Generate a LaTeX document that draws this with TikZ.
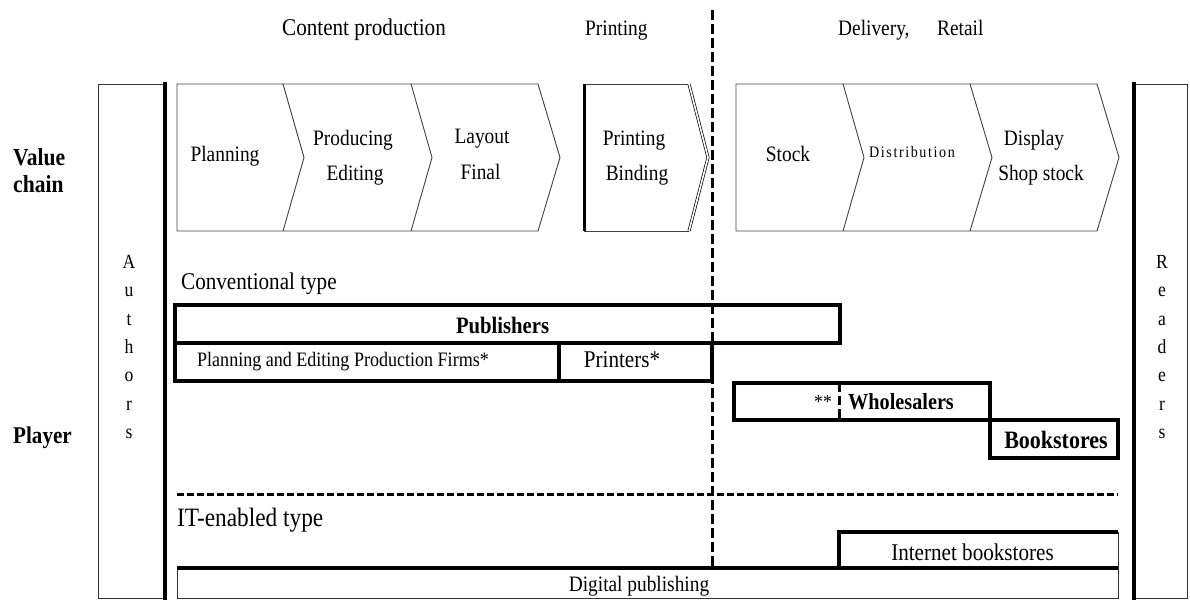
\documentclass[tikz,border=0pt]{standalone}
\usepackage{fontspec}
\setmainfont[FakeStretch=0.88]{Liberation Serif}
\newfontfamily\spacedfont[FakeStretch=0.88,LetterSpace=10]{Liberation Serif}
\newcommand\fsz[1]{\fontsize{#1}{#1}\selectfont}
\tikzset{
  txt/.style={inner sep=0pt, anchor=base},
  chev/.style={draw=black!75, line width=0.9pt, line join=miter},
  thinbox/.style={draw=black!80, line width=0.9pt},
  thickline/.style={line width=3.8pt, line cap=rect},
  vdash/.style={line width=3pt, dash pattern=on 10pt off 4pt},
  hdash/.style={line width=3pt, dash pattern=on 7pt off 3pt},
}
\begin{document}
\begin{tikzpicture}[x=1pt,y=-1pt]
\useasboundingbox (0,0) rectangle (1190,606);

% header
\node[txt, font=\fsz{24}] (hcp) at (364,35) {Content production};
\node[txt, anchor=base west, font=\fsz{22}] (hpr) at (585,35) {Printing};
\node[txt, anchor=base west, font=\fsz{22}] (hdl) at (838,35) {Delivery,};
\node[txt, anchor=base west, font=\fsz{22}] (hrt) at (937,35) {Retail};

% left labels
\node[txt, anchor=base west, font=\fsz{24.5}\bfseries] (vc1) at (13,165.5) {Value};
\node[txt, anchor=base west, font=\fsz{24.5}\bfseries] (vc2) at (13,192.5) {chain};
\node[txt, anchor=base west, font=\fsz{24}\bfseries] (pl) at (13,443) {Player};

% Authors column
\draw[thinbox] (165,84) -- (98,84) -- (98,598) -- (165,598);
\draw[thickline, line cap=butt] (165,82) -- (165,600);
\foreach \c [count=\i from 0] in {A,u,t,h,o,r,s}
  \node[txt, font=\fsz{20}] (au\i) at (129,268.5+28.3*\i) {\c};

% Readers column
\draw[thinbox] (1134,84) -- (1187,84) -- (1187,598) -- (1134,598);
\draw[thickline, line cap=butt] (1134,82) -- (1134,600);
\foreach \c [count=\i from 0] in {R,e,a,d,e,r,s}
  \node[txt, font=\fsz{20}] (rd\i) at (1162,268.5+28.3*\i) {\c};

% value chain chevrons (left group)
\draw[chev] (177,84) -- (283,84) -- (304,157.5) -- (283,231) -- (177,231) -- cycle;
\draw[chev] (283,84) -- (411,84) -- (432,157.5) -- (411,231) -- (283,231);
\draw[chev] (411,84) -- (538,84) -- (560,157.5) -- (538,231) -- (411,231);
\node[txt, font=\fsz{22}] (c1) at (225,161.7) {Planning};
\node[txt, font=\fsz{22}] (c2a) at (353,145) {Producing};
\node[txt, font=\fsz{22}] (c2b) at (355,180) {Editing};
\node[txt, font=\fsz{22}] (c3a) at (482,143.5) {Layout};
\node[txt, font=\fsz{22}] (c3b) at (480.5,179.5) {Final};

% printing chevron
\draw[chev] (689,84) -- (584,84) -- (584,231) -- (689,231);
\draw[line width=3pt] (584,84) -- (584,231);
\draw[double, double distance=1.6pt, line width=0.7pt] (689,84) -- (708,157.5) -- (689,231);
\node[txt, font=\fsz{22}] (pa) at (634,145) {Printing};
\node[txt, font=\fsz{22}] (pb) at (637,180) {Binding};

% delivery chevrons
\draw[chev] (736,84) -- (843,84) -- (864,157.5) -- (843,231) -- (736,231) -- cycle;
\draw[chev] (843,84) -- (970,84) -- (992,157.5) -- (970,231) -- (843,231);
\draw[chev] (970,84) -- (1097,84) -- (1119,157.5) -- (1097,231) -- (970,231);
\node[txt, font=\fsz{22}] (st) at (788,161.7) {Stock};
\node[txt, font=\spacedfont\fsz{16}] (di) at (912,157.3) {Distribution};
\node[txt, font=\fsz{22}] (dpa) at (1034,145) {Display};
\node[txt, font=\fsz{22}] (dpb) at (1041,180) {Shop stock};

% conventional type
\node[txt, anchor=base west, font=\fsz{24}] (conv) at (181,289.5) {Conventional type};

% vertical dashed divider
\coordinate (vtop) at (712,10);
\coordinate (vbot) at (712,568);
\draw[vdash] (vtop) -- (vbot);

% publishers etc.
\draw[thickline] (175,305) rectangle (840,343);
\draw[thickline] (175,343) rectangle (559,381);
\draw[thickline] (559,343) rectangle (712,381);
\node[txt, font=\fsz{23.5}\bfseries] (pub) at (502.6,333.3) {Publishers};
\node[txt, font=\fsz{20.5}] (firm) at (343,366.7) {Planning and Editing Production Firms*};
\node[txt, font=\fsz{24}] (prn) at (622,367.3) {Printers*};

% wholesalers / bookstores
\draw[thickline] (734,383) rectangle (990,420);
\draw[thickline] (990,420) rectangle (1118,458);
\draw[line width=3pt, dash pattern=on 9pt off 4pt] (839,383) -- (839,420);
\node[txt, font=\fsz{20}] (ast) at (823,408) {**};
\node[txt, font=\fsz{23}\bfseries] (wh) at (901,409.3) {Wholesalers};
\node[txt, font=\fsz{25}\bfseries] (bk) at (1056,448.3) {Bookstores};

% horizontal dashed separator
\coordinate (hl) at (177,494);
\coordinate (hr) at (1118,494);
\draw[hdash] (hl) -- (hr);
\node[txt, anchor=base west, font=\fsz{26.5}] (it) at (177,526) {IT-enabled type};

% internet bookstores
\draw[thinbox] (1118,532) -- (1118,568);
\draw[thickline, line cap=butt] (839,568) -- (839,532) -- (1118,532);
\node[txt, font=\fsz{24}] (ib) at (972.5,560.8) {Internet bookstores};

% digital publishing
\draw[thinbox] (177,568) -- (177,598) -- (1118,598) -- (1118,568);
\draw[line width=3.5pt] (177,568) -- (1118,568);
\node[txt, font=\fsz{22}] (dig) at (639,591.5) {Digital publishing};
\end{tikzpicture}
\end{document}
